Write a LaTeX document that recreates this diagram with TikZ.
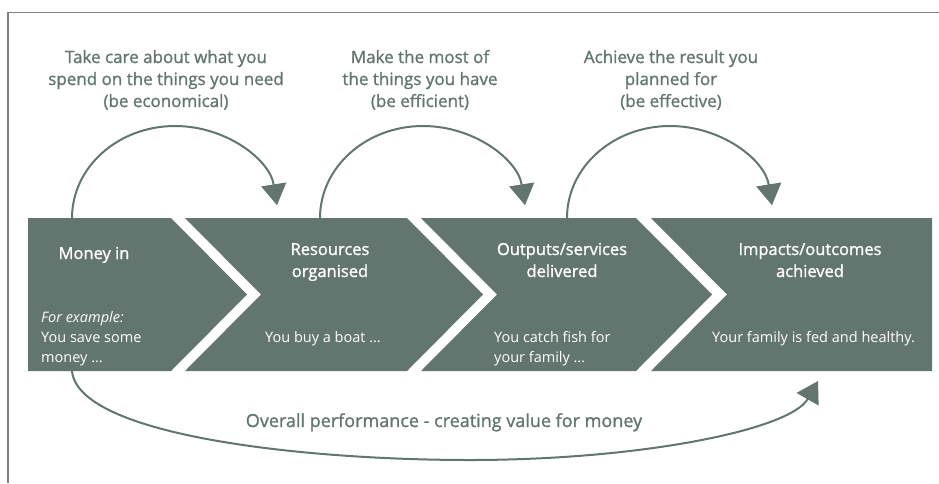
\documentclass[tikz,border=0pt]{standalone}
\usepackage{fontspec}
\setmainfont{Open Sans}
\newfontfamily\headfont[FakeBold=1.2]{Open Sans}
\usetikzlibrary{arrows.meta}
\definecolor{sage}{RGB}{98,117,111}
\definecolor{framegray}{RGB}{128,128,128}
\begin{document}
\begin{tikzpicture}[x=1pt,y=-1pt,
  chevron/.style={fill=sage,draw=none},
  flow/.style={draw=sage,line width=2pt,-{Triangle[length=21pt,width=25pt]}},
  toptext/.style={text=sage,font=\headfont\fontsize{17}{22}\selectfont,align=center,anchor=base,inner sep=0pt},
  headtext/.style={text=white,font=\headfont\fontsize{16.5}{22}\selectfont,align=center,anchor=base,inner sep=0pt},
  bodytext/.style={text=white,font=\fontsize{14.5}{20}\selectfont,align=left,anchor=base west,inner sep=0pt},
  overall/.style={text=sage,font=\headfont\fontsize{18}{22}\selectfont,anchor=base,inner sep=0pt},
]
\useasboundingbox (0,0) rectangle (939,483);

% open frame: top and left rules
\draw[framegray,line width=1.3pt] (8,483) -- (8,12.5) -- (939,12.5);

% the four chevron stages
\fill[chevron] (28,218) -- (171,218) -- (247,294.5) -- (171,371) -- (28,371) -- cycle;
\fill[chevron] (185,218) -- (407,218) -- (483,294.5) -- (407,371) -- (185,371) -- (261,294.5) -- cycle;
\fill[chevron] (421,218) -- (636,218) -- (712,294.5) -- (636,371) -- (421,371) -- (497,294.5) -- cycle;
\fill[chevron] (651,218) -- (932,218) -- (932,371) -- (651,371) -- (727,294.5) -- cycle;

% captions above the loops (placed by the baseline of their last line)
\node[toptext] (t1) at (166,107) {Take care about what you\\spend on the things you need\\(be economical)};
\node[toptext] (t2) at (420,107) {Make the most of\\the things you have\\(be efficient)};
\node[toptext] (t3) at (671,107) {Achieve the result you\\planned for\\(be effective)};

% stage headings
\node[headtext] (h1) at (94,259) {Money in};
\node[headtext] (h2) at (330,277) {Resources\\organised};
\node[headtext] (h3) at (562,277) {Outputs/services\\delivered};
\node[headtext] (h4) at (810,277) {Impacts/outcomes\\achieved};

% stage examples
\node[bodytext] (b1) at (41,362) {\itshape For example:\\You save some\\money …};
\node[bodytext] (b2) at (265,342) {You buy a boat …};
\node[bodytext] (b3) at (494,362) {You catch fish for\\your family …};
\node[bodytext] (b4) at (712,342) {Your family is fed and healthy.};

\node[overall] (ov) at (444,427) {Overall performance - creating value for money};

% loop anchors on the top edge of the band
\coordinate (l1) at (72,218);
\coordinate (l2) at (320,218);
\coordinate (l3) at (567,218);

\draw[flow] (l1) arc[start angle=180, end angle=352, x radius=103, y radius=92];
\draw[flow] (l2) arc[start angle=180, end angle=352, x radius=103, y radius=92];
\draw[flow] (l3) arc[start angle=180, end angle=352, x radius=103, y radius=92];

% overall sweep underneath
\coordinate (ps) at (72,371);
\coordinate (pm) at (470,460);
\coordinate (pe) at (818,381);
\draw[flow] (ps) .. controls (78,435) and (300,460) .. (pm) .. controls (640,460) and (790,430) .. (pe);
\end{tikzpicture}
\end{document}
